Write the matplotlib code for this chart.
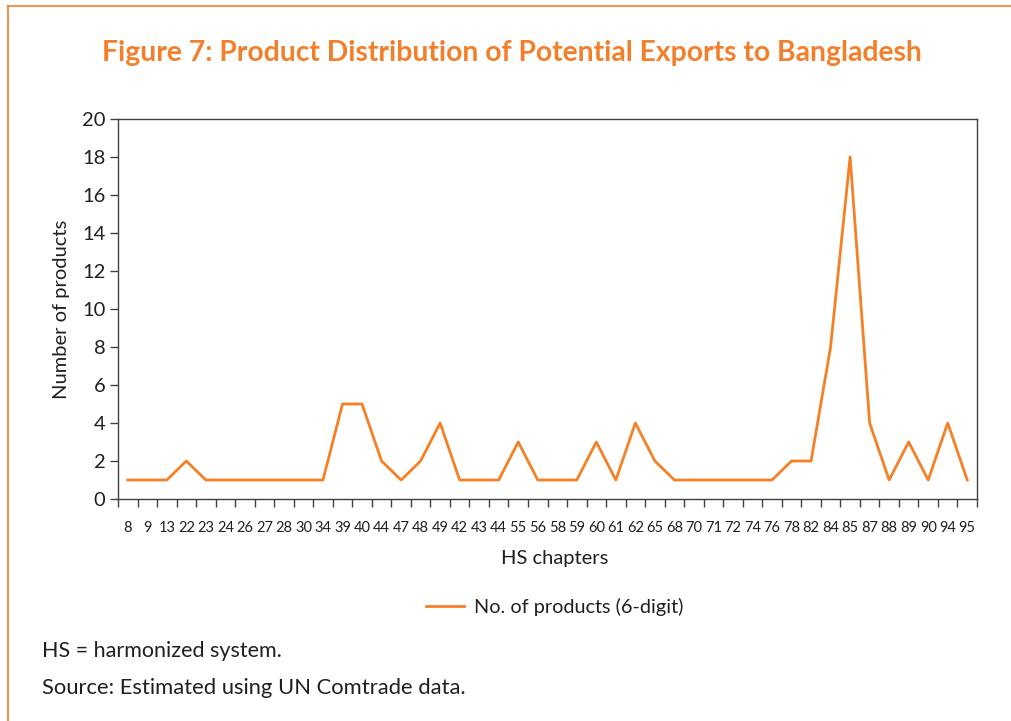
import matplotlib.pyplot as plt
import numpy as np

# HS chapters (in the order shown on the chart) and number of 6-digit products
chapters = ["8", "9", "13", "22", "23", "24", "26", "27", "28", "30", "34",
            "39", "40", "44", "47", "48", "49", "42", "43", "44", "55", "56",
            "58", "59", "60", "61", "62", "65", "68", "70", "71", "72", "74",
            "76", "78", "82", "84", "85", "87", "88", "89", "90", "94", "95"]
products = [1, 1, 1, 2, 1, 1, 1, 1, 1, 1, 1,
            5, 5, 2, 1, 2, 4, 1, 1, 1, 3, 1,
            1, 1, 3, 1, 4, 2, 1, 1, 1, 1, 1,
            1, 2, 2, 8, 18, 4, 1, 3, 1, 4, 1]

orange = "#F58025"
title_col = "#F47F2B"
text_col = "#231F20"

plt.rcParams['font.family'] = ['Lato', 'DejaVu Sans']

fig = plt.figure(figsize=(10.11, 7.21), dpi=100)
W, H = 1011, 721

# orange frame lines (top and left)
fig.add_artist(plt.Line2D([8 / W, 1], [1 - 6 / H, 1 - 6 / H], color=orange, lw=1.2))
fig.add_artist(plt.Line2D([8 / W, 8 / W], [0, 1 - 6 / H], color=orange, lw=1.2))

ax = fig.add_axes([118 / W, 1 - 499 / H, (977 - 118) / W, (499 - 119) / H])

x = np.arange(len(chapters))
ax.plot(x, products, color=orange, lw=2.0, label="No. of products (6-digit)")

ax.set_xlim(-0.5, len(chapters) - 0.5)
ax.set_ylim(0, 20)
ax.set_yticks(range(0, 21, 2))
ax.tick_params(axis='y', labelsize=14.5, colors='#404040', labelcolor=text_col,
               length=6, width=1, direction='out', pad=3)

ax.set_xticks(x)
ax.set_xticklabels(chapters, fontsize=10.5, color=text_col)
ax.set_xticks(np.arange(-0.5, len(chapters)), minor=True)
ax.tick_params(axis='x', which='major', length=0, pad=16)
ax.tick_params(axis='x', which='minor', length=6, width=1, colors='#404040')

for s in ax.spines.values():
    s.set_color('#404040')
    s.set_linewidth(1.0)

ax.set_xlabel("HS chapters", fontsize=14.5, color=text_col, labelpad=12)
ax.xaxis.set_label_coords(0.508, -0.135)
ax.set_ylabel("Number of products", fontsize=14.5, color=text_col, labelpad=9)

fig.text(512 / W, 1 - 53 / H,
         "Figure 7: Product Distribution of Potential Exports to Bangladesh",
         ha='center', va='center', fontsize=20.3, fontweight='bold', color=title_col)

leg = fig.legend(loc='center', bbox_to_anchor=(555 / W, 1 - 607 / H), frameon=False,
                 fontsize=14.3, handlelength=1.9, handletextpad=0.5)
for t in leg.get_texts():
    t.set_color(text_col)

fig.text(42 / W, 1 - 651 / H, "HS = harmonized system.", ha='left', va='center',
         fontsize=15.5, color=text_col)
fig.text(42 / W, 1 - 688 / H, "Source: Estimated using UN Comtrade data.", ha='left',
         va='center', fontsize=15.8, color=text_col)

fig.savefig("out.png", dpi=100)
